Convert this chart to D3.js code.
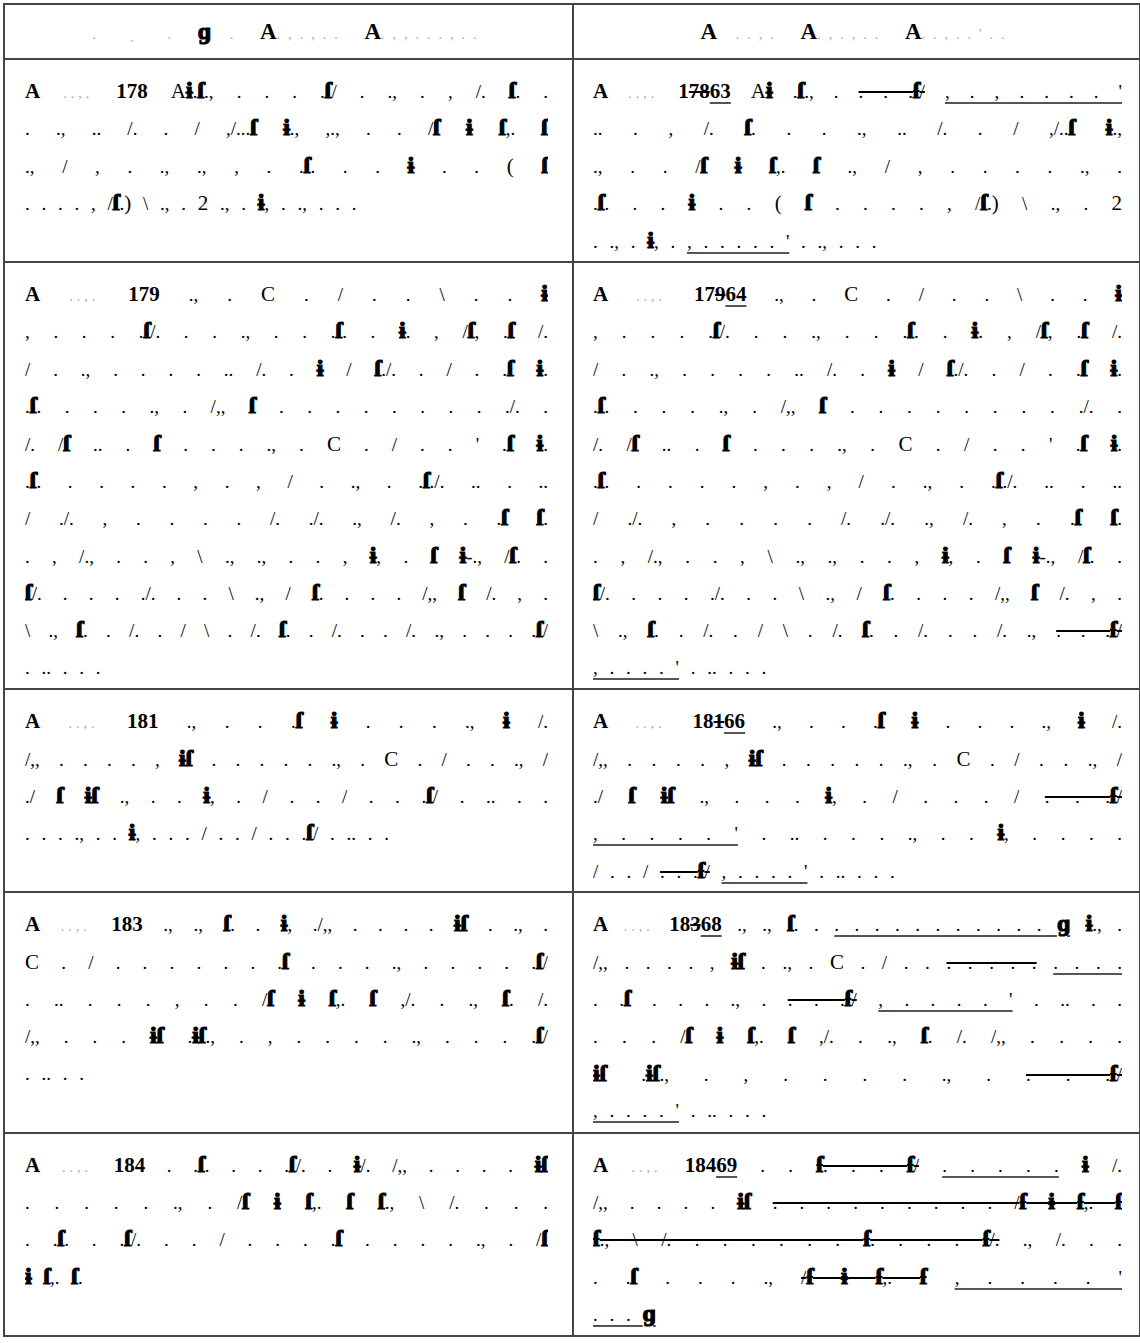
<!DOCTYPE html>
<html>
<head>
<meta charset="utf-8">
<script src="https://cdn.jsdelivr.net/npm/d3@7"></script>
<style>
  body { margin: 0; background: #fff; }
  #tbl { position: absolute; left: 3px; top: 3px; }
  table { border-collapse: collapse; table-layout: fixed; width: 1136px;
          font-family: "Liberation Serif", "DejaVu Serif", serif; font-size: 21px; color: #000; }
  td, th { border: 2px solid #444; vertical-align: top; padding: 12px 24px 2px 20px; }
  th { height: 53px; padding: 0; vertical-align: middle; text-align: center; font-size: 23px; word-spacing: 14px; }
  th .gray { letter-spacing: 8px; }
  td.right { padding: 12px 17px 2px 19px; }
  .ln { height: 37.4px; line-height: 37.4px; overflow: hidden; text-align: justify;
        text-align-last: justify; word-spacing: 4px; }
  .ln.last { text-align-last: left; word-spacing: 7px; }
  .small { font-weight: normal; font-size: 19px; }
  .big { font-weight: bold; }
  .bar { font-weight: bold; font-size: 24px; -webkit-text-stroke: 1.2px #000; }
  .reg { font-weight: normal; }
  .gray { color: #aaa; font-weight: normal; font-size: 14px; letter-spacing: 4px; }
  .del { text-decoration: line-through; text-decoration-thickness: 2px; }
  .ins { text-decoration: underline; text-decoration-color: #555; text-decoration-thickness: 2px; text-underline-offset: 4px; }
</style>
</head>
<body>
<div id="tbl"></div>
<script>
// header cells
var headers = ["{. ˏ .} ɡ {.} A{.,.,..} A{.,,...,..}",
               "A {..,.} A{.,.,..} A{..,..'..}"];

// article numbers (old / amended)
var articles = ["178", "179", "181", "183", "184"];
var amended = ["1~78~_63_", "17~9~_64_", "18~1~_66_", "18~3~_68_", "184_69_"];

// old text, line by line
var leftLines = [
  [" [A]ɨ.ſ., . . . .ſ/ . ., . , /. ſ. .",
   ". ., .. /. . / ,/...ſ ɨ., ,., . . /ſ ɨ ſ,. ſ",
   "., / , . ., ., , . .ſ. . . ɨ . . [(] ſ",
   ". . . . , /ſ.[)] \\ ., . [2] ., . ɨ, . ., . . ."],
  [" ., . [C] . / . . \\ . . ɨ",
   ", . . . .ſ/. . . ., . . .ſ. . ɨ. , /ſ, .ſ /.",
   "/ . ., . . . . .. /. . ɨ / ſ./. . / . .ſ ɨ.",
   ".ſ. . . . ., . /,, ſ . . . . . . . . ./. .",
   "/. /ſ .. . ſ . . . ., . [C] . / . . ' .ſ ɨ.",
   ".ſ. . . . . , . , / . ., . .ſ./. .. . ..",
   "/ ./. , . . . . /. ./. ., /. , . .ſ ſ.",
   ". , /., . . , \\ ., ., . . , ɨ, . ſ ɨ-., /ſ. .",
   "ſ/. . . . ./. . . \\ ., / ſ. . . . /,, ſ /. , .",
   "\\ ., ſ. . /. . / \\ . /. ſ. . /. . . /. ., . . . .ſ/",
   ". .. . . ."],
  [" ., . . .ſ ɨ . . . ., ɨ /.",
   "/,, . . . . , ɨſ . . . . . ., . [C] . / . . ., /",
   "./ ſ ɨſ ., . . ɨ, . / . . / . . .ſ/ . .. . .",
   ". . . ., . . ɨ, . . . / . . / . . .ſ/ . .. . ."],
  [" ., ., ſ. . ɨ, ./,, . . . . ɨſ . ., .",
   "[C] . / . . . . . . .ſ . . . ., . . . . .ſ/",
   ". .. . . . , . . /ſ ɨ ſ,. ſ ,/. . ., ſ. /.",
   "/,, . . . ɨſ .ɨſ., . , . . . . ., . . . .ſ/",
   ". .. . ."],
  [" . .ſ. . . .ſ/. . ɨ/. /,, . . . . ɨſ",
   ". . . . . ., . /ſ ɨ ſ,. ſ ſ., \\ /. . . .",
   ". .ſ. . .ſ/. . . / . . . .ſ . . . . ., . /ſ",
   "ɨ ſ,. ſ."]
];

// amended text, line by line
var rightLines = [
  [" [A]ɨ .ſ., . ~. . .ſ/~ _, . , . . . . '_",
   ".. . , /. ſ. . . ., .. /. . / ,/..ſ ɨ.,",
   "., . . /ſ ɨ ſ,. ſ ., / , . . . . ., .",
   ".ſ. . . ɨ . . [(] ſ . . . . , /ſ.[)] \\ ., . [2]",
   ". ., . ɨ, . _, . . . . . '_ . ., . . ."],
  [" ., . [C] . / . . \\ . . ɨ",
   ", . . . .ſ/. . . ., . . .ſ. . ɨ. , /ſ, .ſ /.",
   "/ . ., . . . . .. /. . ɨ / ſ./. . / . .ſ ɨ.",
   ".ſ. . . . ., . /,, ſ . . . . . . . . ./. .",
   "/. /ſ .. . ſ . . . ., . [C] . / . . ' .ſ ɨ.",
   ".ſ. . . . . , . , / . ., . .ſ./. .. . ..",
   "/ ./. , . . . . /. ./. ., /. , . .ſ ſ.",
   ". , /., . . , \\ ., ., . . , ɨ, . ſ ɨ-., /ſ. .",
   "ſ/. . . . ./. . . \\ ., / ſ. . . . /,, ſ /. , .",
   "\\ ., ſ. . /. . / \\ . /. ſ. . /. . . /. ., ~. . .ſ/~",
   "_, . . . . '_ . .. . . ."],
  [" ., . . .ſ ɨ . . . ., ɨ /.",
   "/,, . . . . , ɨſ . . . . . ., . [C] . / . . ., /",
   "./ ſ ɨſ ., . . . ɨ, . / . . . / ~. . .ſ/~",
   "_, . . . . '_ . .. . . . ., . . ɨ, . . . .",
   "/ . . / ~. . .ſ/~ _, . . . . '_ . .. . . ."],
  [" ., ., ſ. . _. . . . . . . . . . . ɡ_ ɨ., .",
   "/,, . . . . , ɨſ . ., . [C] . / . . ~. . . . .~ _. . . ._",
   ". .ſ . . . ., . ~. . .ſ/~ _, . . . . '_ . .. . .",
   ". . . /ſ ɨ ſ,. ſ ,/. . ., ſ. /. /,, . . . .",
   "ɨſ .ɨſ., . , . . . . ., . ~. . .ſ/~",
   "_, . . . . '_ . .. . . ."],
  [" . . ~ſ. . . ſ/~ _. . . . ._ ɨ /.",
   "/,, . . . . ɨſ ~. . . . . . . . . /ſ ɨ ſ,. ſ~",
   "~ſ., \\ /. . . . . . . ſ. . . . ſ/.~ ., /. . .",
   ". .ſ . . . ., ~/ſ ɨ ſ,. ſ~ _, . . . . '_",
   "_. . . ɡ_"]
];

// split a line into styled pieces
function parse(line) {
  var out = [];
  line.split(/(~[^~]*~|_[^_]*_|\[[^\]]*\]|\{[^}]*\})/).forEach(function(s) {
    if (!s.length) return;
    var c = s[0], cls = "", t = s;
    if (c == "~") cls = "del";
    else if (c == "_") cls = "ins";
    else if (c == "[") cls = "reg";
    else if (c == "{") cls = "gray";
    if (cls) t = s.slice(1, -1);
    t.split(/([ſɨɡ]+|[A-Z0-9()]+)/).forEach(function(p) {
      if (!p.length) return;
      var k = /[ſɨɡ]/.test(p) ? "bar" : /[A-Z0-9()]/.test(p) ? "big" : "small";
      if (cls == "gray") k = "";
      out.push({text: p, cls: (k + " " + cls).trim()});
    });
  });
  return out;
}

function fillLine(div, line) {
  div.selectAll("span")
    .data(parse(line))
    .join("span")
    .attr("class", function(d) { return d.cls; })
    .text(function(d) { return d.text; });
}

var rows = articles.map(function(a, i) {
  return [
    {cls: "left", lines: leftLines[i].map(function(l, j) { return j == 0 ? "A {..,.} " + a + l : l; })},
    {cls: "right", lines: rightLines[i].map(function(l, j) { return j == 0 ? "A {..,.} " + amended[i] + l : l; })}
  ];
});

var table = d3.select("#tbl").append("table");
var colgroup = table.append("colgroup");
colgroup.append("col").style("width", "569px");
colgroup.append("col").style("width", "567px");

// header row
table.append("tr")
  .selectAll("th")
  .data(headers)
  .join("th")
  .each(function(h) { fillLine(d3.select(this), h); });

// body rows
var tr = table.selectAll("tr.body")
  .data(rows)
  .join("tr")
  .attr("class", "body");

var td = tr.selectAll("td")
  .data(function(d) { return d; })
  .join("td")
  .attr("class", function(d) { return d.cls; });

td.selectAll("div.ln")
  .data(function(d) { return d.lines; })
  .join("div")
  .attr("class", function(d, i, nodes) { return i == nodes.length - 1 ? "ln last" : "ln"; })
  .each(function(l) { fillLine(d3.select(this), l); });
</script>
</body>
</html>
